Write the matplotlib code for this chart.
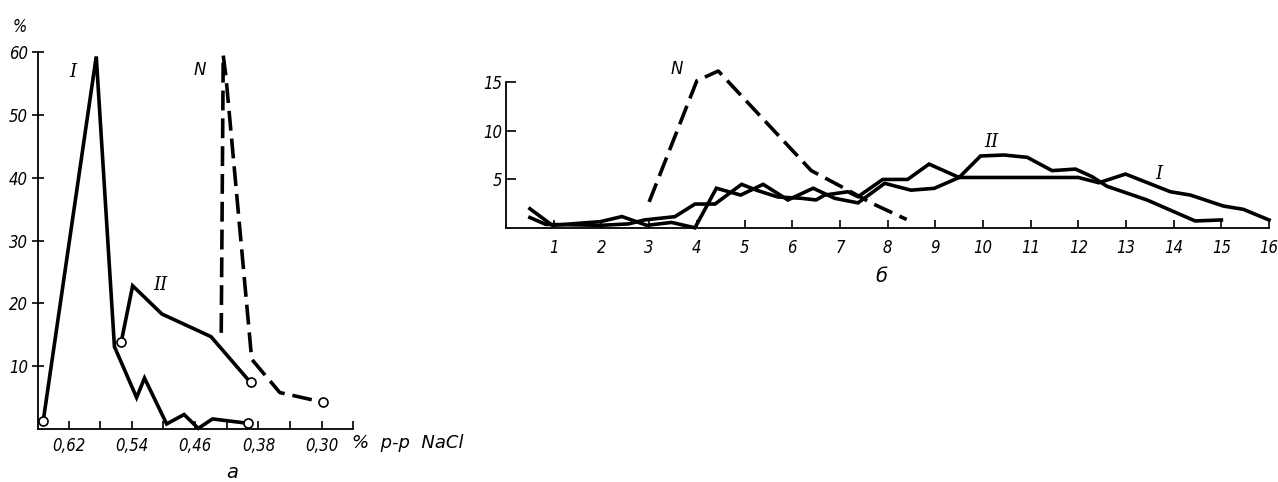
"""Two-panel distribution chart: (а) by NaCl concentration, (б) by class."""

import matplotlib.pyplot as plt

# panel а: x = % NaCl solution, y = %
a_I_x = [0.652, 0.585, 0.562, 0.534, 0.524, 0.496, 0.474, 0.456, 0.438, 0.393]
a_I_y = [1.3, 59.3, 13.1, 5.0, 8.1, 0.8, 2.3, 0.1, 1.6, 0.9]
a_II_x = [0.5535, 0.539, 0.502, 0.440, 0.390]
a_II_y = [13.8, 22.8, 18.3, 14.7, 7.4]
a_N_x = [0.427, 0.4245, 0.421, 0.3885, 0.353, 0.298]
a_N_y = [15.3, 59.5, 56.0, 11.1, 5.8, 4.25]
a_xticks = [0.62, 0.58, 0.54, 0.50, 0.46, 0.42, 0.38, 0.34, 0.30, 0.26]
a_xticklabels = ["0,62", "", "0,54", "", "0,46", "", "0,38", "", "0,30", ""]
a_yticks = [10, 20, 30, 40, 50, 60]

# panel б
b_I_x = [0.5, 0.83, 1.98, 2.57, 2.9, 3.54, 3.96, 4.38, 4.94, 5.25, 5.7, 6.19,
         6.5, 6.68, 7.17, 7.38, 7.9, 8.42, 8.87, 9.5, 12.0, 12.43, 12.99,
         13.93, 14.35, 15.04, 15.46, 16.0]
b_I_y = [1.1, 0.4, 0.3, 0.45, 0.85, 1.19, 2.48, 2.48, 4.5, 3.9, 3.2, 3.07,
         2.9, 3.4, 3.74, 3.23, 5.0, 5.0, 6.57, 5.2, 5.2, 4.66, 5.55,
         3.74, 3.4, 2.28, 1.94, 0.85]
b_II_x = [0.5, 0.97, 1.98, 2.43, 2.95, 3.47, 3.96, 4.41, 4.92, 5.39, 5.91,
          6.44, 6.89, 7.38, 7.94, 8.49, 8.98, 9.5, 9.95, 10.44, 10.93, 11.45,
          11.94, 12.29, 12.6, 13.44, 14.45, 15.0]
b_II_y = [2.0, 0.3, 0.68, 1.2, 0.3, 0.6, 0.05, 4.1, 3.4, 4.5, 2.9,
          4.1, 3.07, 2.6, 4.6, 3.9, 4.09, 5.2, 7.4, 7.5, 7.26, 5.9,
          6.06, 5.28, 4.3, 2.9, 0.75, 0.85]
b_N_x = [3.0, 4.0, 4.45, 6.4, 7.17, 7.67, 8.4]
b_N_y = [2.7, 15.1, 16.1, 5.9, 3.9, 2.56, 0.9]
b_xticks = list(range(1, 17))
b_yticks = [5, 10, 15]

LW = 2.6
TICK_FONT = dict(family="DejaVu Sans", style="italic", stretch="condensed", size=12)
ROMAN_FONT = dict(family="DejaVu Serif", style="italic", size=13)


def style_axes(ax):
    for side in ("top", "right"):
        ax.spines[side].set_visible(False)
    for side in ("left", "bottom"):
        ax.spines[side].set_linewidth(1.3)
    ax.tick_params(axis="x", direction="in", length=6, width=1.2, pad=6)
    ax.tick_params(axis="y", direction="inout", length=8, width=1.2, pad=3)
    for lab in ax.get_xticklabels() + ax.get_yticklabels():
        lab.set_fontfamily(TICK_FONT["family"])
        lab.set_fontstyle(TICK_FONT["style"])
        lab.set_fontstretch(TICK_FONT["stretch"])
        lab.set_fontsize(TICK_FONT["size"])


fig = plt.figure(figsize=(12.78, 4.82), dpi=100)

# ---- panel а ----
ax1 = fig.add_axes([0.0295, 0.110, 0.247, 0.782])
ax1.plot(a_I_x, a_I_y, color="black", lw=LW, clip_on=False, solid_joinstyle="miter")
ax1.plot(a_II_x, a_II_y, color="black", lw=LW, clip_on=False, solid_joinstyle="miter")
ax1.plot(a_N_x, a_N_y, color="black", lw=LW, dashes=(5.5, 2.2), clip_on=False)
ax1.plot([a_I_x[0], a_I_x[-1], a_II_x[0], a_II_x[-1], a_N_x[-1]],
         [a_I_y[0], a_I_y[-1], a_II_y[0], a_II_y[-1], a_N_y[-1]],
         "o", ms=6.5, mfc="white", mec="black", mew=1.2, clip_on=False, zorder=5)
ax1.set_xlim(0.659, 0.26)
ax1.set_ylim(0, 60)
ax1.set_xticks(a_xticks)
ax1.set_xticklabels(a_xticklabels)
ax1.set_yticks(a_yticks)
style_axes(ax1)
ax1.text(0.614, 56.8, "I", ha="center", va="center", **ROMAN_FONT)
ax1.text(0.504, 22.9, "II", ha="center", va="center", **ROMAN_FONT)
ax1.text(0.4537, 57.1, "N", ha="center", va="center", family="DejaVu Sans",
         style="italic", size=12)
fig.text(20 / 1278, 1 - 27 / 482, "%", ha="center", va="center", **TICK_FONT)
fig.text(352 / 1278, 1 - 443 / 482, "%  р-р  NaCl", ha="left", va="center",
         family="DejaVu Sans", style="italic", size=13)
fig.text(232 / 1278, 1 - 472 / 482, "а", ha="center", va="center",
         family="DejaVu Sans", style="italic", size=14)

# ---- panel б ----
ax2 = fig.add_axes([0.396, 0.5264, 0.597, 0.304])
ax2.plot(b_I_x, b_I_y, color="black", lw=LW, clip_on=False, solid_joinstyle="miter")
ax2.plot(b_II_x, b_II_y, color="black", lw=LW, clip_on=False, solid_joinstyle="miter")
ax2.plot(b_N_x, b_N_y, color="black", lw=LW, dashes=(5.5, 2.2), clip_on=False)
ax2.set_xlim(0, 16)
ax2.set_ylim(0, 15)
ax2.set_xticks(b_xticks)
ax2.set_yticks(b_yticks)
style_axes(ax2)
ax2.tick_params(axis="x", pad=8)
ax2.tick_params(axis="y", direction="in", length=7)
ax2.text(3.58, 16.3, "N", ha="center", va="center", family="DejaVu Sans",
         style="italic", size=12, clip_on=False)
ax2.text(10.17, 8.85, "II", ha="center", va="center", **ROMAN_FONT)
ax2.text(13.68, 5.6, "I", ha="center", va="center", **ROMAN_FONT)
fig.text(881 / 1278, 1 - 277 / 482, "б", ha="center", va="center",
         family="DejaVu Sans", style="italic", size=14)

fig.savefig("out.png", dpi=100)
